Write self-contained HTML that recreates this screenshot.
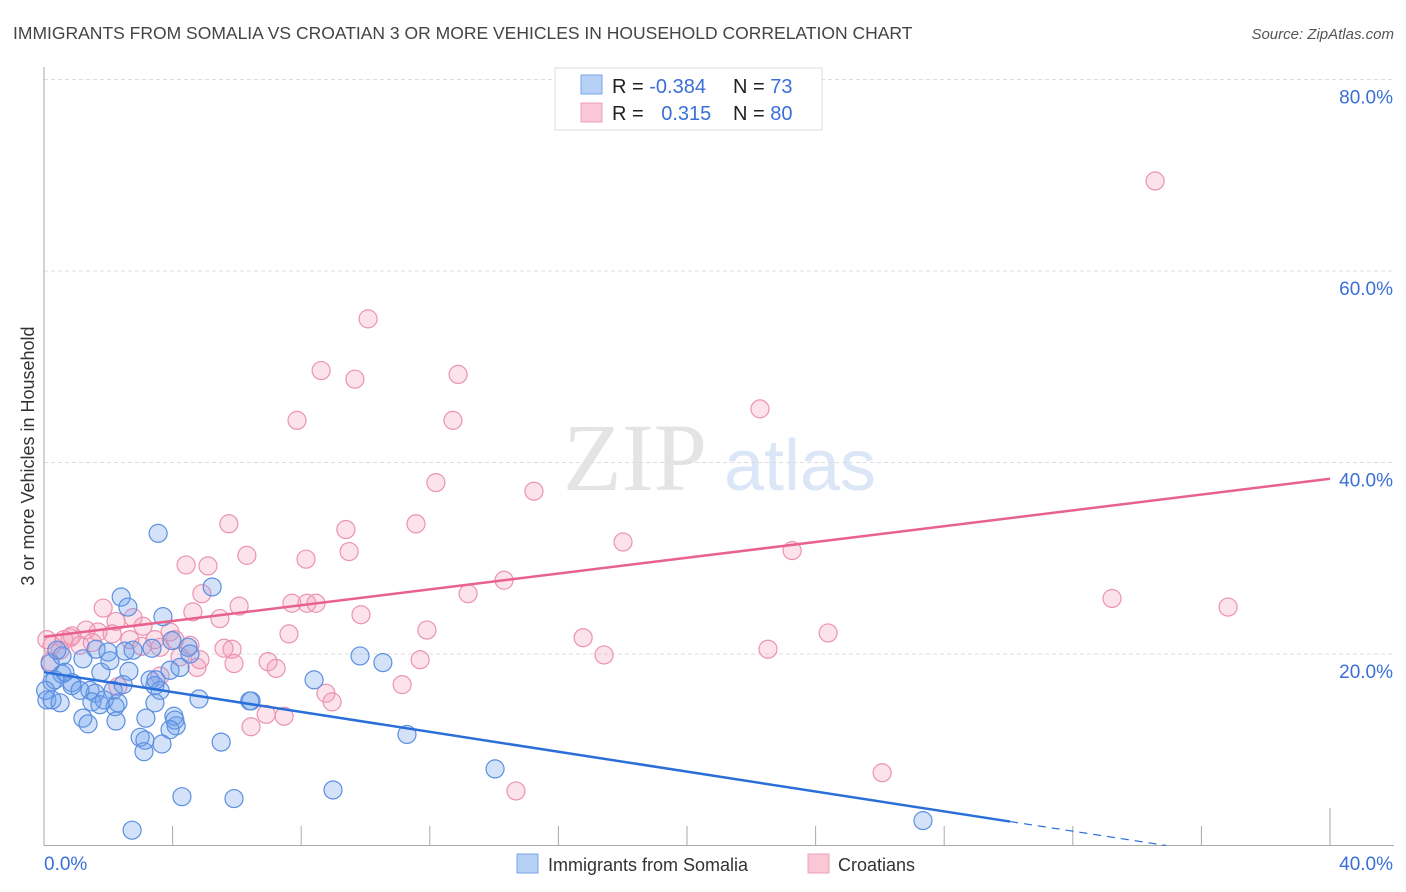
<!DOCTYPE html>
<html><head><meta charset="utf-8"><style>
body{margin:0;background:#fff;font-family:"Liberation Sans",sans-serif}
#wrap{position:relative;width:1406px;height:892px;overflow:hidden}
</style></head><body>
<div id="wrap">
<svg id="svg" width="1406" height="892" xmlns="http://www.w3.org/2000/svg">
<text x="13" y="39" font-size="17.5" fill="#444">IMMIGRANTS FROM SOMALIA VS CROATIAN 3 OR MORE VEHICLES IN HOUSEHOLD CORRELATION CHART</text>
<text x="1394" y="39" font-size="15" fill="#555" font-style="italic" text-anchor="end">Source: ZipAtlas.com</text>
<text x="635" y="490" font-size="96" fill="#e4e4e4" font-family="Liberation Serif,serif" text-anchor="middle">ZIP</text>
<text x="800" y="490" font-size="72" fill="#dbe6f7" text-anchor="middle">atlas</text>
<g id="grid"></g>
<g id="axes"></g>
<g id="pts"></g>
<g id="trend"></g>
<text transform="translate(34,456) rotate(-90)" font-size="18" fill="#333" text-anchor="middle">3 or more Vehicles in Household</text>
<g>
<rect x="555" y="68" width="267" height="62" fill="#fff" stroke="#ddd"/>
<rect x="581" y="75" width="21" height="19" fill="#b7d0f5" stroke="#7aa6e6"/>
<rect x="581" y="103" width="21" height="19" fill="#f9c7d6" stroke="#eea0b9"/>
<text x="612" y="93" font-size="20" fill="#222">R = <tspan fill="#3a6fd8">-0.384</tspan></text>
<text x="733" y="93" font-size="20" fill="#222">N = <tspan fill="#3a6fd8"> 73</tspan></text>
<text x="612" y="120" font-size="20" fill="#222">R = <tspan fill="#3a6fd8" dx="12">0.315</tspan></text>
<text x="733" y="120" font-size="20" fill="#222">N = <tspan fill="#3a6fd8">80</tspan></text>
</g>
<g>
<rect x="517" y="854" width="21" height="19" fill="#b7d0f5" stroke="#7aa6e6"/>
<text x="548" y="871" font-size="18" fill="#333">Immigrants from Somalia</text>
<rect x="808" y="854" width="21" height="19" fill="#f9c7d6" stroke="#eea0b9"/>
<text x="838" y="871" font-size="18" fill="#333">Croatians</text>
</g>
</svg>
</div>
<script>
const yTicks=[20,40,60,80];
const yTickLabels=["20.0%","40.0%","60.0%","80.0%"];
const xTicks=[0,4,8,12,16,20,24,28,32,36,40];
const xTickLabels=["0.0%","40.0%"];
const somaliaX=[3.55,5.23,2.40,2.61,3.70,4.48,3.98,2.52,1.62,1.99,3.36,3.92,4.23,1.21,0.56,0.19,0.25,0.56,0.87,1.77,2.05,1.43,1.59,2.15,2.64,3.30,3.45,3.61,0.09,0.50,0.87,1.49,1.87,2.30,2.21,1.21,1.37,2.24,3.17,4.04,4.82,6.44,3.45,2.99,3.14,3.11,3.67,4.11,4.07,5.51,8.40,9.83,10.54,11.29,14.03,4.29,5.91,8.99,2.74,27.34,0.40,0.34,1.12,2.46,2.77,0.65,1.74,3.48,4.54,0.25,3.92,0.05,6.40];
const somaliaY=[32.6,27.0,25.95,24.9,23.9,20.7,21.4,20.3,20.5,20.2,20.6,18.3,18.6,19.5,19.8,19.0,17.1,17.9,17.0,18.1,19.3,16.2,15.9,16.2,18.2,17.3,16.7,16.2,15.2,14.9,16.7,15.0,15.2,14.9,14.5,13.3,12.7,13.0,13.3,13.5,15.3,15.1,14.9,11.3,11.0,9.8,10.6,12.5,13.1,10.8,17.3,19.8,19.1,11.6,8.0,5.1,4.9,5.8,1.6,2.6,20.4,17.3,16.2,16.8,20.4,18.1,14.7,17.3,20.0,15.2,12.1,16.2,15.1];
const croatX=[34.56,10.08,8.62,9.67,12.88,7.87,12.72,22.27,12.19,15.24,5.75,11.57,9.39,6.31,8.15,9.49,18.01,23.27,4.42,5.10,4.91,14.31,13.19,33.22,36.83,6.07,7.71,8.18,8.46,9.86,5.47,4.63,7.62,11.91,16.77,24.39,22.52,17.42,3.92,3.08,2.24,1.68,1.31,0.81,0.62,0.25,0.09,2.67,3.05,3.61,5.60,5.85,6.97,5.91,4.23,4.76,7.22,11.70,11.14,8.77,8.96,6.91,7.47,6.44,3.61,2.30,26.07,14.68,1.84,0.50,0.19,0.87,2.12,2.77,4.07,4.85,4.54,3.45,1.12,1.50];
const croatY=[69.4,55.0,49.6,48.7,49.2,44.4,44.4,45.6,37.9,37.0,33.6,33.6,33.0,30.3,29.9,30.7,31.7,30.8,29.3,29.2,26.3,27.7,26.3,25.8,24.9,25.0,25.3,25.3,25.3,24.1,23.7,24.4,22.1,22.5,21.7,22.2,20.5,19.9,22.3,22.9,23.4,22.3,22.5,21.7,21.5,20.9,21.5,21.5,20.8,20.7,20.6,20.5,19.2,19.0,19.7,18.6,18.5,19.4,16.8,15.9,15.0,13.7,13.5,12.4,17.7,16.6,7.6,5.7,24.8,20.4,19.2,21.9,22.1,23.8,21.5,19.4,20.9,21.5,20.9,21.2];
const somaliaTrendX=[0,30.05,34.9];
const somaliaTrendY=[18.1,2.5,0];
const croatTrendX=[0,40];
const croatTrendY=[21.8,38.3];

const NS="http://www.w3.org/2000/svg";
const sx=v=>44+v*32.15;
const sy=v=>845.5-v*9.575;
function mk(tag,attrs,parent){const e=document.createElementNS(NS,tag);for(const k in attrs)e.setAttribute(k,attrs[k]);document.getElementById(parent).appendChild(e);return e;}

yTicks.forEach((t,i)=>{
  const g=mk('line',{x1:44,x2:1394,y1:sy(t),y2:sy(t),stroke:'#ddd','stroke-dasharray':'4,3'},'grid');
  
  
  const l=mk('text',{x:1393,y:sy(t)+24,'font-size':19,fill:'#3a6fd8','text-anchor':'end'},'axes');
  l.textContent=yTickLabels[i];
  
  
});
const ya=mk('line',{x1:44,x2:44,y1:67,y2:845.5,stroke:'#aaa'},'axes');


const xa=mk('line',{x1:44,x2:1394,y1:845.5,y2:845.5,stroke:'#aaa'},'axes');


xTicks.forEach((t,i)=>{
  if(i===0)return;
  const tk=mk('line',{x1:sx(t),x2:sx(t),y1:(i===xTicks.length-1?808:826),y2:845.5,stroke:'#aaa'},'axes');
  
  
});
const xl0=mk('text',{x:44,y:870,'font-size':19,fill:'#3a6fd8'},'axes');
xl0.textContent=xTickLabels[0];


const xl1=mk('text',{x:1393,y:870,'font-size':19,fill:'#3a6fd8','text-anchor':'end'},'axes');
xl1.textContent=xTickLabels[1];



croatX.forEach((x,i)=>{
  const c=mk('circle',{cx:sx(x),cy:sy(croatY[i]),r:9,fill:'rgba(244,160,188,0.3)',stroke:'#eb93b0','stroke-width':1.2},'pts');
  
  
});
somaliaX.forEach((x,i)=>{
  const c=mk('circle',{cx:sx(x),cy:sy(somaliaY[i]),r:9,fill:'rgba(110,160,235,0.3)',stroke:'#5b8fe0','stroke-width':1.2},'pts');
  
  
});
const pl=mk('line',{x1:sx(croatTrendX[0]),y1:sy(croatTrendY[0]),x2:sx(croatTrendX[1]),y2:sy(croatTrendY[1]),stroke:'#e8628d','stroke-width':2.5},'trend');


const bl=mk('line',{x1:sx(somaliaTrendX[0]),y1:sy(somaliaTrendY[0]),x2:sx(somaliaTrendX[1]),y2:sy(somaliaTrendY[1]),stroke:'#2a6fd8','stroke-width':2.5},'trend');


const bd=mk('line',{x1:sx(somaliaTrendX[1]),y1:sy(somaliaTrendY[1]),x2:sx(somaliaTrendX[2]),y2:sy(somaliaTrendY[2]),stroke:'#2a6fd8','stroke-width':1.2,'stroke-dasharray':'8,6'},'trend');


</script>
</body></html>
